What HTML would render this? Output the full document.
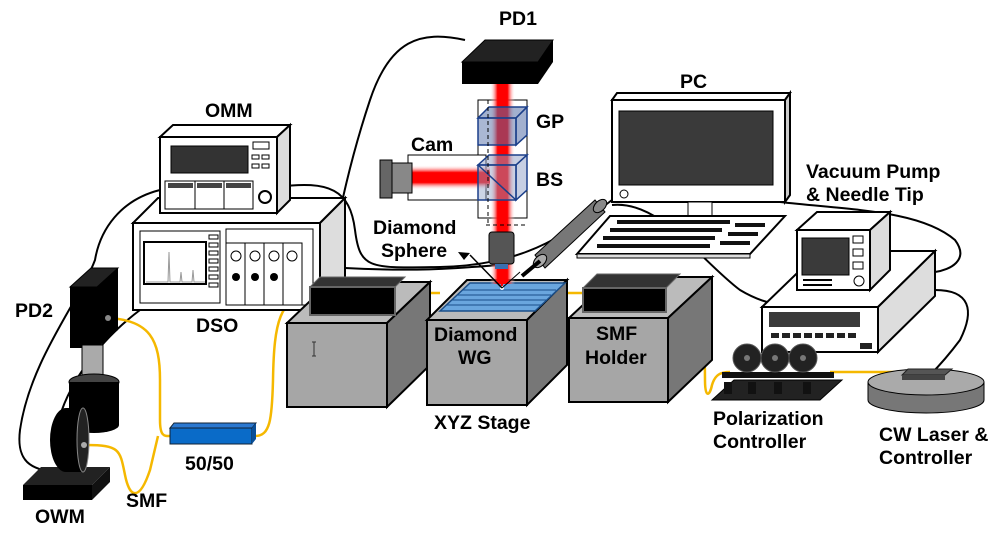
<!DOCTYPE html>
<html><head><meta charset="utf-8"><style>
html,body{margin:0;padding:0;background:#fff;}
svg{display:block;}
text{font-family:"Liberation Sans",Arial,sans-serif;font-weight:bold;font-size:19.5px;fill:#000;}
</style></head><body>
<svg width="1007" height="539" viewBox="0 0 1007 539" xmlns="http://www.w3.org/2000/svg">
<defs>
<linearGradient id="bv" x1="0" x2="1" y1="0" y2="0">
<stop offset="0" stop-color="#fff" stop-opacity="0"/><stop offset="0.3" stop-color="#f00"/><stop offset="0.7" stop-color="#f00"/><stop offset="1" stop-color="#fff" stop-opacity="0"/></linearGradient>
<linearGradient id="bh" x1="0" x2="0" y1="0" y2="1">
<stop offset="0" stop-color="#fff" stop-opacity="0"/><stop offset="0.3" stop-color="#f00"/><stop offset="0.7" stop-color="#f00"/><stop offset="1" stop-color="#fff" stop-opacity="0"/></linearGradient>
</defs>
<g fill="none" stroke="#000" stroke-width="2">
<path d="M465 40 C420 30 390 40 370 100 C350 160 340 210 332 250"/>
<path d="M160 190 C120 200 100 230 95 260 C80 300 30 360 20 430 C15 470 40 470 70 475"/>
<path d="M277 187 C330 180 350 190 355 230 C360 270 370 268 440 267 C520 265 560 240 612 200"/>
<path d="M345 268 C420 272 460 268 500 265"/>
<path d="M140 310 C100 340 60 390 55 440"/>
<path d="M612 205 C660 200 700 260 740 290 C790 320 830 300 845 285"/>
<path d="M780 202 C850 210 920 210 955 240 C970 260 950 270 935 272"/>
<path d="M935 290 C970 290 975 310 960 340 C945 360 935 370 930 375"/>
</g>
<g fill="none" stroke="#f5b800" stroke-width="2.5">
<path d="M108 318 C150 320 160 340 160 380 L160 420 C160 438 165 436 172 436"/>
<path d="M86 445 C120 445 120 450 125 475 C130 500 140 500 150 470 L158 436"/>
<path d="M255 436 C270 436 272 420 273 380 C274 320 280 300 310 292"/>
<path d="M400 293 L440 293"/><path d="M560 293 L583 293"/>
<path d="M673 295 C700 300 705 330 705 380 C705 400 710 395 712 385 C715 375 720 372 730 372"/>
<path d="M830 372 L905 372"/>
</g>
<polygon points="70,287 97,287 118,268 91,268" fill="#222" stroke="#000"/>
<polygon points="97,287 118,268 118,330 97,348" fill="#000"/>
<rect x="70" y="287" width="27" height="61" fill="#000"/>
<circle cx="108" cy="318" r="3" fill="#888"/>
<rect x="82" y="345" width="21" height="35" fill="#aaa" stroke="#000"/>
<ellipse cx="94" cy="382" rx="25" ry="8" fill="#444" stroke="#000"/>
<path d="M69 382 L69 425 A25 8 0 0 0 119 425 L119 382" fill="#000"/>
<polygon points="23,485 92,485 110,467 41,467" fill="#222"/>
<rect x="23" y="485" width="69" height="15" fill="#000"/>
<polygon points="92,485 110,467 110,482 92,500" fill="#111"/>
<ellipse cx="66" cy="440" rx="16" ry="32" fill="#000"/>
<rect x="66" y="408" width="17" height="64" fill="#000"/>
<ellipse cx="83" cy="440" rx="6" ry="32" fill="#222" stroke="#888"/>
<circle cx="84" cy="445" r="3" fill="#aaa"/>
<polygon points="170,428 252,428 256,423 174,423" fill="#2b78d0" stroke="#123"/>
<rect x="170" y="428" width="82" height="16" fill="#0a6bc8" stroke="#123"/>
<polygon points="252,428 256,423 256,439 252,444" fill="#0a4f98"/>
<polygon points="133,223 320,223 345,198 158,198" fill="#fff" stroke="#000" stroke-width="2"/>
<polygon points="320,223 345,198 345,285 320,310" fill="#ddd" stroke="#000" stroke-width="2"/>
<rect x="133" y="223" width="187" height="87" fill="#fff" stroke="#000" stroke-width="2"/>
<rect x="140" y="231" width="80" height="72" fill="#fff" stroke="#000"/>
<rect x="144" y="242" width="62" height="42" fill="#fff" stroke="#000" stroke-width="2"/>
<path d="M146 282 L168 282 L169 252 L170 282 L180 282 L181 272 L182 282 L192 282 L193 270 L194 282 L205 282" fill="none" stroke="#999"/>
<g fill="#fff" stroke="#000"><rect x="209" y="235" width="9" height="4"/><rect x="209" y="243" width="9" height="4"/><rect x="209" y="251" width="9" height="4"/><rect x="209" y="259" width="9" height="4"/><rect x="209" y="267" width="9" height="4"/><rect x="209" y="275" width="9" height="4"/><rect x="209" y="283" width="9" height="4"/></g>
<rect x="226" y="229" width="87" height="76" fill="#fff" stroke="#000"/>
<rect x="226" y="243" width="19" height="62" fill="#fff" stroke="#000"/><rect x="245" y="243" width="19" height="62" fill="#fff" stroke="#000"/><rect x="264" y="243" width="19" height="62" fill="#fff" stroke="#000"/><rect x="283" y="243" width="19" height="62" fill="#fff" stroke="#000"/>
<g fill="#fff" stroke="#000"><circle cx="236" cy="256" r="5"/><circle cx="255" cy="256" r="5"/><circle cx="274" cy="256" r="5"/><circle cx="292" cy="256" r="5"/></g>
<g fill="#000"><circle cx="236" cy="277" r="4"/><circle cx="255" cy="277" r="4"/><circle cx="274" cy="277" r="4"/></g>
<polygon points="160,137 277,137 290,125 173,125" fill="#fff" stroke="#000" stroke-width="2"/>
<polygon points="277,137 290,125 290,200 277,213" fill="#ddd" stroke="#000" stroke-width="2"/>
<rect x="160" y="137" width="117" height="76" fill="#fff" stroke="#000" stroke-width="2"/>
<rect x="171" y="146" width="77" height="27" fill="#333" stroke="#000"/>
<rect x="165" y="181" width="88" height="28" fill="#fff" stroke="#000"/>
<line x1="195" y1="181" x2="195" y2="209" stroke="#000"/><line x1="224" y1="181" x2="224" y2="209" stroke="#000"/>
<g fill="#444"><rect x="168" y="183" width="25" height="5"/><rect x="197" y="183" width="25" height="5"/><rect x="226" y="183" width="25" height="5"/></g>
<circle cx="265" cy="197" r="6" fill="#fff" stroke="#000" stroke-width="2"/>
<g fill="#fff" stroke="#000"><rect x="253" y="142" width="16" height="7"/><rect x="252" y="155" width="7" height="4"/><rect x="262" y="155" width="7" height="4"/><rect x="252" y="164" width="7" height="4"/><rect x="262" y="164" width="7" height="4"/></g>
<polygon points="287,323 387,323 430,282 330,282" fill="#bbb" stroke="#000" stroke-width="2"/>
<polygon points="387,323 430,282 430,365 387,407" fill="#777" stroke="#000" stroke-width="2"/>
<rect x="287" y="323" width="100" height="84" fill="#a6a6a6" stroke="#000" stroke-width="2"/>
<polygon points="310,287 395,287 405,277 320,277" fill="#333" stroke="#666"/>
<rect x="310" y="287" width="85" height="28" fill="#000" stroke="#666" stroke-width="2"/>
<polygon points="427,320 527,320 567,280 467,280" fill="#bbb" stroke="#000" stroke-width="2"/>
<polygon points="527,320 567,280 567,365 527,405" fill="#777" stroke="#000" stroke-width="2"/>
<rect x="427" y="320" width="100" height="85" fill="#a6a6a6" stroke="#000" stroke-width="2"/>
<polygon points="440,311 535,311 565,283 470,283" fill="#6aa6de" stroke="#1b4f8a" stroke-width="1.5"/>
<g stroke="#1b4f8a"><line x1="446" y1="305" x2="541" y2="305"/><line x1="452" y1="300" x2="546" y2="300"/><line x1="457" y1="295" x2="551" y2="295"/><line x1="462" y1="290" x2="556" y2="290"/></g>
<polygon points="569,318 668,318 712,277 613,277" fill="#bbb" stroke="#000" stroke-width="2"/>
<polygon points="668,318 712,277 712,360 668,402" fill="#777" stroke="#000" stroke-width="2"/>
<rect x="569" y="318" width="99" height="84" fill="#a6a6a6" stroke="#000" stroke-width="2"/>
<polygon points="583,288 666,288 680,274 597,274" fill="#333" stroke="#666"/>
<rect x="583" y="288" width="83" height="24" fill="#000" stroke="#666" stroke-width="2"/>
<polygon points="462,62 538,62 553,40 485,40" fill="#222" stroke="#000"/>
<polygon points="538,62 553,40 553,62 538,84" fill="#000"/>
<rect x="462" y="62" width="76" height="22" fill="#000"/>
<rect x="478" y="100" width="49" height="118" fill="none" stroke="#000"/>
<rect x="490" y="84" width="25" height="200" fill="url(#bv)"/>
<rect x="408" y="155" width="78" height="45" fill="#fff" stroke="#000"/>
<rect x="410" y="165" width="80" height="25" fill="url(#bh)"/>
<rect x="392" y="163" width="20" height="30" fill="#888" stroke="#000"/>
<rect x="380" y="160" width="12" height="38" fill="#666" stroke="#000"/>
<polygon points="478,118 516,118 527,107 489,107" fill="#5570a8" fill-opacity="0.55" stroke="#1b3f8a" stroke-width="1.5"/>
<polygon points="516,118 527,107 527,135 516,145" fill="#5570a8" fill-opacity="0.55" stroke="#1b3f8a" stroke-width="1.5"/>
<rect x="478" y="118" width="38" height="27" fill="#5570a8" fill-opacity="0.5" stroke="#1b3f8a" stroke-width="1.5"/>
<polygon points="478,165 516,165 527,155 489,155" fill="#8fa0c8" fill-opacity="0.5" stroke="#1b3f8a" stroke-width="1.5"/>
<polygon points="516,165 527,155 527,190 516,200" fill="#8fa0c8" fill-opacity="0.5" stroke="#1b3f8a" stroke-width="1.5"/>
<rect x="478" y="165" width="38" height="35" fill="#8fa0c8" fill-opacity="0.45" stroke="#1b3f8a" stroke-width="1.5"/>
<line x1="478" y1="165" x2="516" y2="200" stroke="#1b3f8a" stroke-width="1.5"/>
<line x1="488" y1="100" x2="488" y2="225" stroke="#000" stroke-dasharray="4,3"/>
<line x1="486" y1="225" x2="527" y2="225" stroke="#000" stroke-dasharray="4,3"/>
<rect x="489" y="232" width="25" height="32" rx="3" fill="#555" stroke="#000"/>
<rect x="495" y="264" width="13" height="5" fill="#3a6fb0"/>
<polygon points="497,269 506,269 502,290" fill="#f00"/>
<circle cx="502" cy="288" r="2" fill="#fff"/>
<path d="M502 288 L470 255" stroke="#000" stroke-width="1.5"/>
<polygon points="458,252 470,253 464,260" fill="#000"/>
<path d="M502 288 L520 272" stroke="#000" stroke-width="1"/>
<path d="M535 255 L595 200 L605 212 L545 268 Z" fill="#777" stroke="#000"/>
<ellipse cx="540" cy="261" rx="5" ry="8" transform="rotate(45 540 261)" fill="#aaa" stroke="#000"/>
<ellipse cx="600" cy="206" rx="5" ry="8" transform="rotate(45 600 206)" fill="#888" stroke="#000"/>
<path d="M540 261 L522 276" stroke="#000" stroke-width="4"/>
<polygon points="612,100 785,100 790,93 617,93" fill="#fff" stroke="#000" stroke-width="2"/>
<polygon points="785,100 790,93 790,195 785,202" fill="#ccc" stroke="#000" stroke-width="2"/>
<rect x="612" y="100" width="173" height="102" fill="#fff" stroke="#000" stroke-width="2"/>
<rect x="619" y="111" width="154" height="74" fill="#3a3a3a" stroke="#000"/>
<circle cx="624" cy="194" r="4" fill="#fff" stroke="#000"/>
<rect x="688" y="202" width="24" height="14" fill="#fff" stroke="#000"/>
<polygon points="577,254 750,254 785,216 610,216" fill="#fff" stroke="#000" stroke-width="2"/>
<polygon points="577,254 750,254 750,258 577,258" fill="#ddd" stroke="#000"/>
<g stroke="#111" stroke-width="4"><line x1="617" y1="222" x2="730" y2="222"/><line x1="610" y1="230" x2="722" y2="230"/><line x1="603" y1="238" x2="715" y2="238"/><line x1="597" y1="246" x2="710" y2="246"/><line x1="735" y1="225" x2="765" y2="225"/><line x1="728" y1="234" x2="758" y2="234"/><line x1="720" y1="243" x2="750" y2="243"/></g>
<polygon points="762,307 878,307 935,251 820,251" fill="#fff" stroke="#000" stroke-width="2"/>
<polygon points="878,307 935,251 935,296 878,352" fill="#ddd" stroke="#000" stroke-width="2"/>
<rect x="762" y="307" width="116" height="45" fill="#fff" stroke="#000" stroke-width="2"/>
<rect x="769" y="312" width="91" height="15" fill="#3a3a3a"/>
<g fill="#222"><rect x="771" y="333" width="8" height="5"/><rect x="782" y="333" width="8" height="5"/><rect x="793" y="333" width="8" height="5"/><rect x="804" y="333" width="8" height="5"/><rect x="815" y="333" width="8" height="5"/><rect x="826" y="333" width="8" height="5"/><rect x="837" y="333" width="8" height="5"/><rect x="848" y="333" width="8" height="5"/><rect x="860" y="343" width="12" height="6"/></g>
<polygon points="797,230 870,230 890,212 817,212" fill="#fff" stroke="#000" stroke-width="2"/>
<polygon points="870,230 890,212 890,270 870,290" fill="#ddd" stroke="#000" stroke-width="2"/>
<rect x="797" y="230" width="73" height="60" fill="#fff" stroke="#000" stroke-width="2"/>
<rect x="802" y="238" width="47" height="37" fill="#3a3a3a" stroke="#000"/>
<g fill="#fff" stroke="#000"><rect x="853" y="236" width="10" height="7"/><rect x="853" y="249" width="10" height="7"/><rect x="853" y="262" width="10" height="7"/><circle cx="859" cy="281" r="5"/></g>
<g stroke="#000" stroke-width="2"><line x1="803" y1="280" x2="832" y2="280"/><line x1="803" y1="285" x2="832" y2="285"/></g>
<polygon points="712,400 820,400 842,380 734,380" fill="#222" stroke="#000"/>
<rect x="722" y="372" width="112" height="6" fill="#111"/>
<g fill="#111"><rect x="724" y="382" width="8" height="12"/><rect x="748" y="382" width="8" height="12"/><rect x="774" y="382" width="8" height="12"/><rect x="803" y="382" width="8" height="12"/></g>
<g fill="#222" stroke="#555"><circle cx="747" cy="358" r="14"/><circle cx="775" cy="358" r="14"/><circle cx="803" cy="358" r="14"/></g>
<g fill="#777"><circle cx="747" cy="358" r="3"/><circle cx="775" cy="358" r="3"/><circle cx="803" cy="358" r="3"/></g>
<path d="M868 382 L868 400 A58 13 0 0 0 984 400 L984 382" fill="#777" stroke="#000"/>
<ellipse cx="926" cy="382" rx="58" ry="13" fill="#aaa" stroke="#000"/>
<polygon points="902,375 945,375 952,369 908,369" fill="#555" stroke="#222"/>
<rect x="902" y="375" width="43" height="5" fill="#444"/>
<path d="M312 342 L316 342 M314 342 L314 356 M312 356 L316 356" stroke="#333" stroke-width="1"/>
<text x="499" y="25">PD1</text>
<text x="536" y="128">GP</text>
<text x="536" y="186">BS</text>
<text x="411" y="151">Cam</text>
<text x="680" y="88">PC</text>
<text x="205" y="117">OMM</text>
<text x="196" y="332">DSO</text>
<text x="15" y="317">PD2</text>
<text x="35" y="523">OWM</text>
<text x="126" y="507">SMF</text>
<text x="185" y="470">50/50</text>
<text x="434" y="341">Diamond</text>
<text x="458" y="364">WG</text>
<text x="434" y="429">XYZ Stage</text>
<text x="596" y="340">SMF</text>
<text x="585" y="364">Holder</text>
<text x="713" y="425">Polarization</text>
<text x="713" y="448">Controller</text>
<text x="879" y="441">CW Laser &amp;</text>
<text x="879" y="464">Controller</text>
<text x="806" y="178">Vacuum Pump</text>
<text x="806" y="201">&amp; Needle Tip</text>
<text x="373" y="234">Diamond</text>
<text x="381" y="257">Sphere</text>
</svg>
</body></html>
